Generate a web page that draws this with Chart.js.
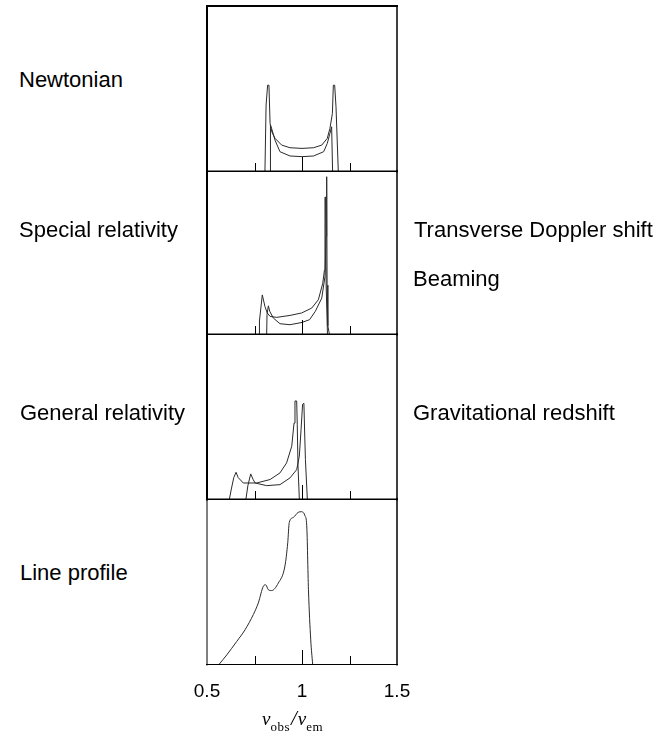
<!DOCTYPE html>
<html>
<head>
<meta charset="utf-8">
<script src="https://cdn.jsdelivr.net/npm/chart.js@4"></script>
<style>
  body { margin: 0; background: #fff; }
  #page { position: relative; width: 669px; height: 735px; overflow: hidden; font-family: "Liberation Sans", Arial, sans-serif; }
  #page canvas { position: absolute; left: 177px; }
  .lbl { position: absolute; font-size: 22px; line-height: 22px; color: #000; white-space: nowrap; }
  #xtitle { position: absolute; left: 262px; top: 709px; font-family: "Liberation Serif", "Times New Roman", serif; font-size: 19px; line-height: 18px; white-space: nowrap; }
  #xtitle sub { font-size: 13px; vertical-align: -6px; letter-spacing: 0.5px; }
  #xtitle .sl { font-style: italic; font-size: 21px; margin: 0 1px; }
</style>
</head>
<body>
<div id="page">
  <canvas id="p1" width="250" height="173" style="top:2px"></canvas>
  <canvas id="p2" width="250" height="171" style="top:167px"></canvas>
  <canvas id="p3" width="250" height="173" style="top:330px"></canvas>
  <canvas id="p4" width="250" height="209" style="top:495px"></canvas>

  <div class="lbl" style="left:19px;top:69px">Newtonian</div>
  <div class="lbl" style="left:19px;top:219px">Special relativity</div>
  <div class="lbl" style="left:20px;top:402px">General relativity</div>
  <div class="lbl" style="left:20px;top:562px">Line profile</div>
  <div class="lbl" style="left:414px;top:219px">Transverse Doppler shift</div>
  <div class="lbl" style="left:413px;top:268px">Beaming</div>
  <div class="lbl" style="left:413px;top:402px">Gravitational redshift</div>

  <div id="xtitle"><i>ν</i><sub>obs</sub><span class="sl">/</span><i>ν</i><sub>em</sub></div>
</div>

<script>
// frequency ratio on x, line height on y (0 = panel floor, 1 = panel top)

// Newtonian: two symmetric double-horned profiles
const newtonX1 = [0.805, 0.811, 0.819, 0.826, 0.832, 0.84, 0.858, 0.893, 0.937, 1.0, 1.061, 1.104, 1.133, 1.147, 1.16, 1.165, 1.172, 1.179, 1.191];
const newtonY1 = [0, 0.40, 0.52, 0.52, 0.288, 0.24, 0.198, 0.157, 0.141, 0.137, 0.141, 0.157, 0.198, 0.258, 0.349, 0.52, 0.52, 0.389, 0];
const newtonX2 = [0.832, 0.834, 0.84, 0.858, 0.884, 0.937, 1.0, 1.061, 1.114, 1.133, 1.147, 1.156, 1.161];
const newtonY2 = [0, 0.28, 0.258, 0.187, 0.117, 0.091, 0.087, 0.091, 0.117, 0.167, 0.228, 0.268, 0];

// Special relativity: blue horn boosted
const specialX1 = [0.774, 0.776, 0.791, 0.805, 0.817, 0.832, 0.867, 0.937, 0.998, 1.051, 1.086, 1.109, 1.118, 1.121, 1.124, 1.127, 1.134];
const specialY1 = [0, 0.08, 0.24, 0.169, 0.129, 0.108, 0.102, 0.114, 0.129, 0.159, 0.21, 0.31, 0.39, 0.84, 0.84, 0.3, 0];
const specialX2 = [0.814, 0.816, 0.823, 0.83, 0.849, 0.884, 0.937, 1.0, 1.04, 1.07, 1.104, 1.121, 1.127, 1.13, 1.132, 1.136, 1.144];
const specialY2 = [0, 0.12, 0.173, 0.14, 0.098, 0.063, 0.057, 0.071, 0.088, 0.139, 0.22, 0.353, 0.6, 0.965, 0.3, 0.05, 0];

// General relativity: whole profile shifted to the red
const generalX1 = [0.618, 0.628, 0.641, 0.653, 0.664, 0.691, 0.761, 0.832, 0.884, 0.919, 0.946, 0.958, 0.963, 0.972, 0.975, 0.979, 0.986];
const generalY1 = [0, 0.06, 0.13, 0.162, 0.13, 0.097, 0.097, 0.118, 0.158, 0.219, 0.32, 0.46, 0.594, 0.594, 0.45, 0.2, 0];
const generalX2 = [0.705, 0.715, 0.73, 0.742, 0.753, 0.814, 0.884, 0.937, 0.972, 0.986, 0.995, 1.003, 1.01, 1.014, 1.018, 1.028];
const generalY2 = [0, 0.08, 0.152, 0.12, 0.097, 0.081, 0.087, 0.128, 0.178, 0.26, 0.42, 0.574, 0.58, 0.40, 0.24, 0];

// summed line profile
const profileX = [0.565, 0.604, 0.656, 0.70, 0.744, 0.77, 0.797, 0.809, 0.823, 0.84, 0.875, 0.91, 0.925, 0.933, 0.954, 0.98, 0.998, 1.016, 1.025, 1.034, 1.046, 1.056];
const profileY = [0, 0.055, 0.136, 0.207, 0.30, 0.37, 0.472, 0.48, 0.45, 0.445, 0.49, 0.593, 0.736, 0.858, 0.888, 0.919, 0.923, 0.898, 0.837, 0.45, 0.146, 0];

// axis ticks
const xTickValues = [0.5, 1, 1.5];
const xTickLabels = ['0.5', '1', '1.5'];
const innerTicks = [0.75, 1, 1.25];

const lineColor = '#2a2a2a';

// box round each panel plus the small inward ticks on its floor
const framePlugin = {
  id: 'frame',
  afterDraw(chart, args, o) {
    const { ctx, chartArea: a } = chart;
    const x = chart.scales.x;
    ctx.save();
    ctx.strokeStyle = '#000';
    ctx.lineWidth = 1;
    innerTicks.forEach(v => {
      const px = Math.round(x.getPixelForValue(v)) + 0.5;
      const len = v === 1 ? 14 : 8;
      ctx.beginPath();
      ctx.moveTo(px, a.bottom);
      ctx.lineTo(px, a.bottom - len);
      ctx.stroke();
    });
    const edge = (w, x1, y1, x2, y2) => {
      ctx.lineWidth = w;
      ctx.beginPath();
      ctx.moveTo(x1, y1);
      ctx.lineTo(x2, y2);
      ctx.stroke();
    };
    const l = a.left, r = a.right, t = a.top, b = a.bottom + 0.5;
    edge(o.top, l - 1, t, r + 1, t);
    edge(1, l - 1, b, r + 1, b);
    edge(o.left, l, t - 1, l, b + 1);
    edge(1.5, r, t - 1, r, b + 1);
    ctx.restore();
  }
};

function toPoints(xs, ys) {
  return xs.map((v, i) => ({ x: v, y: ys[i] }));
}

function makePanel(id, curves, frame, showAxis, smooth) {
  const xAxis = {
    type: 'linear',
    min: 0.5,
    max: 1.5,
    display: showAxis,
    grid: { display: false, drawTicks: false },
    border: { display: false },
    afterBuildTicks: scale => { scale.ticks = xTickValues.map(v => ({ value: v })); },
    ticks: {
      padding: 16,
      color: '#000',
      maxRotation: 0,
      autoSkip: false,
      font: { size: 19, family: '"Liberation Sans", Arial, sans-serif' },
      callback: (v, i) => xTickLabels[i]
    }
  };
  if (showAxis) {
    xAxis.afterFit = scale => { scale.height = 40; };
  }
  return new Chart(document.getElementById(id), {
    type: 'line',
    data: {
      datasets: curves.map(c => ({
        data: toPoints(c[0], c[1]),
        borderColor: lineColor,
        borderWidth: 1,
        pointRadius: 0,
        fill: false,
        tension: 0,
        cubicInterpolationMode: smooth ? 'monotone' : 'default'
      }))
    },
    options: {
      responsive: false,
      animation: false,
      devicePixelRatio: 1,
      layout: { padding: { left: 30, right: 30, top: 4, bottom: showAxis ? 0 : 4 } },
      plugins: { legend: { display: false }, tooltip: { enabled: false }, frame: frame },
      scales: {
        x: xAxis,
        y: { min: 0, max: 1, display: false }
      }
    },
    plugins: [framePlugin]
  });
}

makePanel('p1', [[newtonX1, newtonY1], [newtonX2, newtonY2]], { top: 2, left: 2 }, false, false);
makePanel('p2', [[specialX1, specialY1], [specialX2, specialY2]], { top: 1, left: 2 }, false, false);
makePanel('p3', [[generalX1, generalY1], [generalX2, generalY2]], { top: 1, left: 2 }, false, false);
makePanel('p4', [[profileX, profileY]], { top: 1, left: 1 }, true, true);
</script>
</body>
</html>
